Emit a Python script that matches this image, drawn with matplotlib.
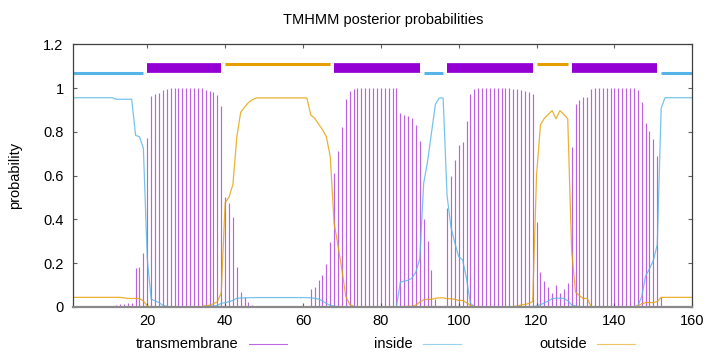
import matplotlib
matplotlib.use("Agg")
import matplotlib.pyplot as plt
from matplotlib.lines import Line2D
from matplotlib.ticker import FuncFormatter
import numpy as np

plt.rcParams['font.family'] = ['Liberation Sans', 'DejaVu Sans']

title = "TMHMM posterior probabilities"
ylabel = "probability"
legend_labels = ["transmembrane", "inside", "outside"]

positions = list(range(1, 161))

transmembrane = (
    [0.0] * 11
    + [0.008, 0.012, 0.012, 0.017, 0.02, 0.177, 0.183, 0.248]
    + [0.774, 0.962, 0.971, 0.979, 0.991, 0.997]
    + [1.0] * 9
    + [0.99, 0.987, 0.98, 0.97, 0.918, 0.504, 0.474, 0.41, 0.184, 0.069,
       0.045, 0.024, 0.01, 0.004, 0.003, 0.002, 0.002, 0.001]
    + [0.0] * 8
    + [0.003, 0.084, 0.093, 0.123, 0.147, 0.196, 0.298, 0.61, 0.713, 0.822,
       0.95, 0.988, 0.997]
    + [1.0] * 11
    + [0.885, 0.878, 0.873, 0.865, 0.831, 0.758, 0.402, 0.30, 0.169, 0.035,
       0.003, 0.003, 0.454, 0.597, 0.672, 0.74, 0.755, 0.85, 0.975, 0.996]
    + [1.0] * 9
    + [0.998, 0.996, 0.991, 0.988, 0.984, 0.975, 0.39, 0.158, 0.119, 0.093,
       0.063, 0.1, 0.063, 0.081, 0.111, 0.73, 0.927, 0.946, 0.961, 0.961,
       0.997]
    + [1.0] * 11
    + [0.99, 0.938, 0.839, 0.806, 0.767, 0.69, 0.047]
    + [0.0] * 8
)

inside = (
    [0.956] * 11
    + [0.949] * 5
    + [0.784, 0.778, 0.725, 0.221, 0.036, 0.028, 0.02, 0.008, 0.003]
    + [0.0] * 9
    + [0.005, 0.005, 0.005, 0.006, 0.017, 0.02, 0.024, 0.03, 0.04, 0.041,
       0.042, 0.042, 0.043]
    + [0.043] * 14
    + [0.042, 0.04, 0.036, 0.028, 0.016, 0.008, 0.004, 0.002, 0.001]
    + [0.0] * 14
    + [0.113, 0.118, 0.122, 0.132, 0.16, 0.22, 0.565, 0.665, 0.796, 0.925,
       0.955, 0.955, 0.51, 0.365, 0.293, 0.23, 0.215, 0.13, 0.017, 0.002]
    + [0.0] * 15
    + [0.005, 0.01, 0.019, 0.027, 0.038, 0.04, 0.04, 0.039, 0.029, 0.01,
       0.005, 0.002]
    + [0.0] * 14
    + [0.005, 0.047, 0.141, 0.174, 0.213, 0.285, 0.909]
    + [0.956] * 8
)

outside = (
    [0.044] * 11
    + [0.044, 0.044, 0.042, 0.039, 0.039, 0.039, 0.039, 0.027, 0.005]
    + [0.0] * 13
    + [0.002, 0.005, 0.008, 0.015, 0.024, 0.065, 0.476, 0.502, 0.56, 0.776,
       0.89, 0.913, 0.934, 0.947]
    + [0.955] * 14
    + [0.877, 0.862, 0.836, 0.81, 0.778, 0.687, 0.382, 0.28, 0.17, 0.048,
       0.012, 0.003]
    + [0.0] * 11
    + [0.002, 0.002, 0.003, 0.003, 0.009, 0.022, 0.033, 0.035, 0.035, 0.04,
       0.042, 0.042, 0.038, 0.038, 0.035, 0.03, 0.03, 0.02, 0.008, 0.002]
    + [0.0] * 9
    + [0.002, 0.004, 0.009, 0.012, 0.016, 0.025, 0.605, 0.832, 0.862, 0.88,
       0.897, 0.86, 0.897, 0.88, 0.86, 0.26, 0.068, 0.052, 0.039, 0.039,
       0.003]
    + [0.0] * 11
    + [0.005, 0.015, 0.02, 0.02, 0.02, 0.025, 0.044]
    + [0.044] * 8
)

# predicted topology segments (start, end, kind)
seg_start = [1, 20, 40, 68, 91, 97, 120, 129, 152]
seg_end = [19, 39, 67, 90, 96, 119, 128, 151, 160]
seg_kind = ["inside", "TM", "outside", "TM", "inside", "TM", "outside", "TM", "inside"]

xticks = [20, 40, 60, 80, 100, 120, 140, 160]
yticks = [0, 0.2, 0.4, 0.6, 0.8, 1.0, 1.2]

C_TM = "#9400D3"
C_IN = "#56B4E9"
C_OUT = "#E69F00"

W, H = 720, 352
fig = plt.figure(figsize=(W / 100, H / 100), dpi=100)
ax = fig.add_axes([73.3 / W, 45 / H, 619 / W, 262.7 / H])

ax.vlines(positions, 0, transmembrane, color=C_TM, lw=0.85, alpha=0.62)
ax.plot(positions, inside, color=C_IN, lw=0.9, alpha=0.8)
ax.plot(positions, outside, color=C_OUT, lw=0.9, alpha=0.8)

seg_style = {"inside": (C_IN, 1.07, 2.2), "TM": (C_TM, 1.09, 7.0),
             "outside": (C_OUT, 1.11, 2.2)}
for s, e, k in zip(seg_start, seg_end, seg_kind):
    c, yv, lw = seg_style[k]
    ax.plot([s, e], [yv, yv], color=c, lw=lw, solid_capstyle="butt")

ax.set_xlim(1, 160)
ax.set_ylim(0, 1.2)
ax.set_xticks(xticks)
ax.set_yticks(yticks)
ax.yaxis.set_major_formatter(FuncFormatter(lambda v, p: "%g" % v))
ax.tick_params(direction="in", length=3, width=0.8, color="#606060",
               top=True, right=True, labelsize=10.5)
ax.tick_params(axis="y", pad=7)
ax.tick_params(axis="x", pad=5)

for side in ["left", "top", "right"]:
    ax.spines[side].set_color("#404040")
    ax.spines[side].set_linewidth(0.9)
ax.spines["bottom"].set_color("#8a8a8a")
ax.spines["bottom"].set_linewidth(1.6)

ax.set_ylabel(ylabel, fontsize=10.5)
ax.yaxis.set_label_coords(-0.083, 0.5)

fig.text(382.8 / W, 1 - 20 / H, title, ha="center", va="center", fontsize=10.5)

leg_text_end = [238.5, 413.0, 587.0]
leg_colors = [C_TM, C_IN, C_OUT]
ly = 1 - 343.5 / H
for lab, xe, c in zip(legend_labels, leg_text_end, leg_colors):
    fig.text(xe / W, ly, lab, ha="right", va="center", fontsize=10.5)
    fig.add_artist(Line2D([(xe + 10) / W, (xe + 48) / W], [ly, ly],
                          transform=fig.transFigure, color=c, lw=0.8, alpha=0.6))

fig.savefig("out.png", dpi=100)
